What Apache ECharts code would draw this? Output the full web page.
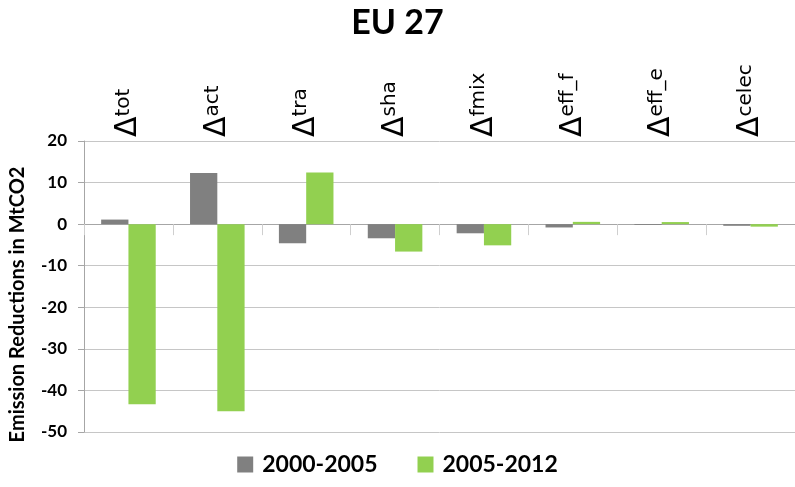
<!DOCTYPE html>
<html>
<head>
<meta charset="utf-8">
<script src="https://cdn.jsdelivr.net/npm/echarts@6/dist/echarts.min.js"></script>
<style>html,body{margin:0;padding:0;background:#fff}#c{width:795px;height:487px}</style>
</head>
<body>
<div id="c"></div>
<script>
const categories = ['tot', 'act', 'tra', 'sha', 'fmix', 'eff_f', 'eff_e', 'celec'];
const seriesNames = ['2000-2005', '2005-2012'];
const values2000_2005 = [1.1, 12.3, -4.6, -3.4, -2.2, -0.8, -0.2, -0.4];
const values2005_2012 = [-43.3, -45.0, 12.4, -6.6, -5.1, 0.55, 0.5, -0.6];
const yTicks = { min: -50, max: 20, interval: 10 };

const chart = echarts.init(document.getElementById('c'), null, { renderer: 'canvas' });
const font = 'Lato, "Open Sans", sans-serif';
chart.setOption({
  animation: false,
  backgroundColor: '#fff',
  title: {
    text: 'EU 27', left: 'center', top: 1,
    textStyle: { fontFamily: font, fontWeight: 'bold', fontSize: 34, color: '#000' }
  },
  legend: {
    bottom: 6, left: 'center', itemWidth: 16, itemHeight: 16, itemGap: 40,
    icon: 'rect',
    textStyle: { fontFamily: font, fontWeight: 'bold', fontSize: 23, color: '#000', padding: [0, 0, 0, 4] },
    data: seriesNames
  },
  grid: { left: 84, right: -7, top: 141, bottom: 55, containLabel: false },
  xAxis: [
    {
      type: 'category', data: categories, position: 'bottom',
      axisLine: { onZero: true, lineStyle: { color: '#a6a6a6', width: 1 } },
      axisTick: { show: true, length: 11, lineStyle: { color: '#cfcfcf' } },
      axisLabel: { show: false },
      splitLine: { show: false }
    },
    {
      type: 'category', data: categories, position: 'top',
      axisLine: { show: false }, axisTick: { show: false },
      axisLabel: {
        show: true, rotate: -90, margin: 4, interval: 0,
        formatter: v => '{d|Δ}{s|' + v + '}',
        rich: {
          d: { fontFamily: 'DejaVu Sans', fontSize: 30, color: '#000', verticalAlign: 'bottom', lineHeight: 30 },
          s: { fontFamily: 'DejaVu Sans', fontSize: 20, color: '#000', verticalAlign: 'top', lineHeight: 30 }
        }
      }
    }
  ],
  yAxis: {
    type: 'value', min: yTicks.min, max: yTicks.max, interval: yTicks.interval,
    name: 'Emission Reductions in MtCO2', nameLocation: 'middle', nameGap: 56,
    nameTextStyle: { fontFamily: font, fontWeight: 'bold', fontSize: 20, color: '#000', padding: [0, 36, 0, 0] },
    axisLine: { show: true, lineStyle: { color: '#a6a6a6' } },
    axisTick: { show: true, length: 6, lineStyle: { color: '#a6a6a6' } },
    axisLabel: { fontFamily: font, fontWeight: 'bold', fontSize: 17, color: '#000', margin: 17 },
    splitLine: { show: true, lineStyle: { color: '#c6c6c6', width: 1 } }
  },
  series: [
    { name: seriesNames[0], type: 'bar', xAxisIndex: 0, data: values2000_2005, itemStyle: { color: '#808080' }, barGap: '0%', barCategoryGap: '38.6%' },
    { name: seriesNames[1], type: 'bar', xAxisIndex: 0, data: values2005_2012, itemStyle: { color: '#92D050' }, barGap: '0%', barCategoryGap: '38.6%' }
  ]
});
</script>
</body>
</html>
